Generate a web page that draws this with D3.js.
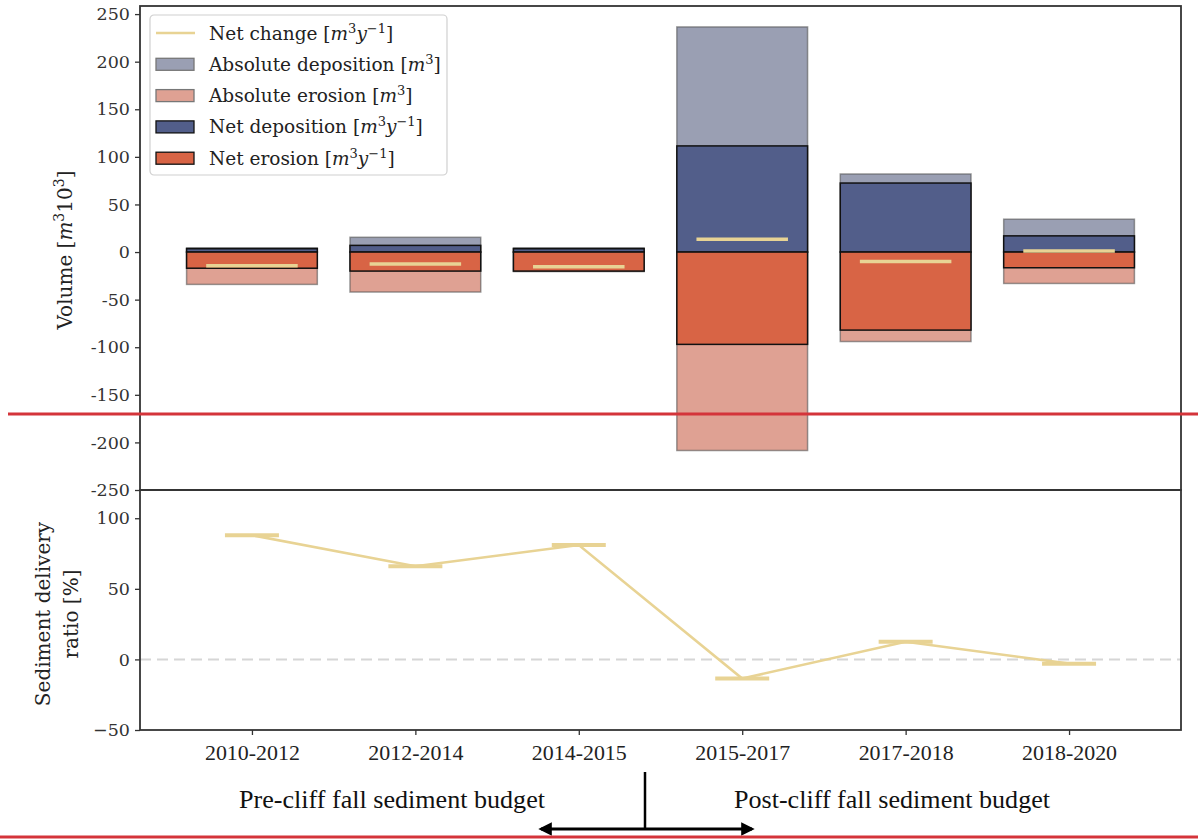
<!DOCTYPE html>
<html>
<head>
<meta charset="utf-8">
<script src="https://cdn.jsdelivr.net/npm/d3@7"></script>
<style>
  body { margin: 0; background: #fff; }
  svg { display: block; }
</style>
</head>
<body>
<svg id="chart"></svg>
<script>
// periods on the x axis
const periods = ["2010-2012", "2012-2014", "2014-2015", "2015-2017", "2017-2018", "2018-2020"]

// volumes [m3 10^3]
const absDeposition = [4.5, 15.5, 4.5, 236.5, 82, 34.5]
const netDeposition = [3.5, 7, 3.5, 111.5, 72.5, 17]
const netErosion = [-17, -20, -20, -97, -82, -16.5]
const absErosion = [-34, -42, -20.5, -208.5, -94, -33]
const netChange = [-14.5, -12.5, -15.5, 13.5, -10, 1]

// sediment delivery ratio [%]
const deliveryRatio = [88, 66, 81, -13.5, 12.5, -3]

const topTicks = [250, 200, 150, 100, 50, 0, -50, -100, -150, -200, -250]
const bottomTicks = [100, 50, 0, -50]

const W = 1198, H = 840
const svg = d3.select("#chart").attr("width", W).attr("height", H)

const serif = "'DejaVu Serif', serif"
const colors = {
    absDep: "#9a9fb3", netDep: "#525e8a",
    absEro: "#dfa193", netEro: "#d86445",
    change: "#e8d394"
}

let x = d3.scaleLinear().domain([-0.685, 5.685]).range([140, 1181])
let yTop = d3.scaleLinear().domain([-250, 258.5]).range([490, 6])
let yBot = d3.scaleLinear().domain([-50, 120]).range([730, 490])
const barW = x(0.8) - x(0)

// ---- top panel: bars ----
const topG = svg.append("g")

function bars(values, fill, stroke, opacity) {
    topG.append("g").selectAll("rect")
        .data(values)
        .join("rect")
        .attr("x", (d, i) => x(i) - barW / 2)
        .attr("width", barW)
        .attr("y", d => yTop(Math.max(0, d)))
        .attr("height", d => Math.abs(yTop(d) - yTop(0)))
        .attr("fill", fill)
        .attr("stroke", stroke)
        .attr("stroke-opacity", opacity)
        .attr("stroke-width", 1.5)
}
bars(absDeposition, colors.absDep, "#555", 0.6)
bars(absErosion, colors.absEro, "#555", 0.6)
bars(netDeposition, colors.netDep, "#111", 1)
bars(netErosion, colors.netEro, "#111", 1)

const lineW = x(0.56) - x(0)
topG.append("g").selectAll("line")
    .data(netChange)
    .join("line")
    .attr("x1", (d, i) => x(i) - lineW / 2)
    .attr("x2", (d, i) => x(i) + lineW / 2)
    .attr("y1", d => yTop(d))
    .attr("y2", d => yTop(d))
    .attr("stroke", colors.change)
    .attr("stroke-width", 3.5)

// ---- bottom panel ----
const botG = svg.append("g")
botG.append("line")
    .attr("x1", x.range()[0]).attr("x2", x.range()[1])
    .attr("y1", yBot(0)).attr("y2", yBot(0))
    .attr("stroke", "#d6d6d6")
    .attr("stroke-width", 2)
    .attr("stroke-dasharray", "11,6")

let ratioLine = d3.line()
    .x((d, i) => x(i))
    .y(d => yBot(d))

botG.append("path")
    .datum(deliveryRatio)
    .attr("fill", "none")
    .attr("stroke", colors.change)
    .attr("stroke-width", 2.6)
    .attr("d", ratioLine)

const markW = 54
botG.append("g").selectAll("line")
    .data(deliveryRatio)
    .join("line")
    .attr("x1", (d, i) => x(i) - markW / 2)
    .attr("x2", (d, i) => x(i) + markW / 2)
    .attr("y1", d => yBot(d))
    .attr("y2", d => yBot(d))
    .attr("stroke", colors.change)
    .attr("stroke-width", 4)

// ---- axes ----
function styleAxis(g) {
    g.select(".domain").remove()
    g.selectAll(".tick line").attr("stroke", "#333").attr("stroke-width", 1.3)
    g.selectAll(".tick text").attr("fill", "#333")
        .style("font-family", serif).style("font-size", "17.5px")
}

svg.append("g")
    .attr("transform", "translate(140,0)")
    .call(d3.axisLeft(yTop).tickValues(topTicks).tickSize(5).tickPadding(5)
        .tickFormat(d => String(d)))
    .call(styleAxis)

svg.append("g")
    .attr("transform", "translate(140,0)")
    .call(d3.axisLeft(yBot).tickValues(bottomTicks).tickSize(5).tickPadding(5)
        .tickFormat(d => d < 0 ? "\u2212" + Math.abs(d) : String(d)))
    .call(styleAxis)

let xAxis = svg.append("g")
    .attr("transform", "translate(0,730)")
    .call(d3.axisBottom(x).tickValues(d3.range(periods.length)).tickSize(5).tickPadding(9)
        .tickFormat(i => periods[i]))
xAxis.select(".domain").remove()
xAxis.selectAll(".tick line").attr("stroke", "#333").attr("stroke-width", 1.3)
xAxis.selectAll(".tick text")
    .attr("fill", "#222")
    .style("font-family", "'Liberation Serif', serif")
    .style("font-size", "22px")
    .attr("textLength", 95)
    .attr("lengthAdjust", "spacingAndGlyphs")

// frames
svg.append("rect")
    .attr("x", 140).attr("y", 6).attr("width", 1041).attr("height", 484)
    .attr("fill", "none").attr("stroke", "#333").attr("stroke-width", 1.8)
svg.append("rect")
    .attr("x", 140).attr("y", 490).attr("width", 1041).attr("height", 240)
    .attr("fill", "none").attr("stroke", "#333").attr("stroke-width", 1.8)

// axis titles
let volLabel = svg.append("text")
    .attr("transform", "translate(72,250) rotate(-90)")
    .attr("text-anchor", "middle")
    .attr("fill", "#222")
    .style("font-family", serif).style("font-size", "20px")
volLabel.append("tspan").text("Volume [")
volLabel.append("tspan").text("m").style("font-style", "italic")
volLabel.append("tspan").text("3").attr("baseline-shift", "super").style("font-size", "14px")
volLabel.append("tspan").text("10")
volLabel.append("tspan").text("3").attr("baseline-shift", "super").style("font-size", "14px")
volLabel.append("tspan").text("]")

let sdrLabel = svg.append("text")
    .attr("transform", "translate(50,614) rotate(-90)")
    .attr("text-anchor", "middle")
    .attr("fill", "#222")
    .style("font-family", serif).style("font-size", "20px")
sdrLabel.append("tspan").attr("x", 0).attr("dy", 0).text("Sediment delivery")
sdrLabel.append("tspan").attr("x", 0).attr("dy", 28).text("ratio [%]")

// ---- legend ----
const legend = svg.append("g").attr("transform", "translate(150,15)")
legend.append("rect")
    .attr("width", 297).attr("height", 160).attr("rx", 4)
    .attr("fill", "#fff").attr("fill-opacity", 0.8)
    .attr("stroke", "#d0d0d0").attr("stroke-width", 1.2)

const legendItems = [
    { type: "line", color: colors.change, label: ["Net change [", "m", "3", "y", "\u22121", "]"] },
    { type: "rect", color: colors.absDep, edge: "#777", label: ["Absolute deposition [", "m", "3", "", "", "]"] },
    { type: "rect", color: colors.absEro, edge: "#777", label: ["Absolute erosion [", "m", "3", "", "", "]"] },
    { type: "rect", color: colors.netDep, edge: "#111", label: ["Net deposition [", "m", "3", "y", "\u22121", "]"] },
    { type: "rect", color: colors.netEro, edge: "#111", label: ["Net erosion [", "m", "3", "y", "\u22121", "]"] }
]

legendItems.forEach((it, i) => {
    const cy = 18 + i * 31.3
    if (it.type === "line") {
        legend.append("line")
            .attr("x1", 6).attr("x2", 45).attr("y1", cy).attr("y2", cy)
            .attr("stroke", it.color).attr("stroke-width", 2.6)
    } else {
        legend.append("rect")
            .attr("x", 6).attr("y", cy - 6).attr("width", 38).attr("height", 12)
            .attr("fill", it.color).attr("stroke", it.edge).attr("stroke-width", 1.3)
    }
    const t = legend.append("text")
        .attr("x", 59).attr("y", cy + 6.5)
        .attr("fill", "#222")
        .style("font-family", serif).style("font-size", "18.5px")
    const [a, m, e, yv, e2, close] = it.label
    t.append("tspan").text(a)
    t.append("tspan").text(m).style("font-style", "italic")
    t.append("tspan").text(e).attr("baseline-shift", "super").style("font-size", "13px")
    if (yv) {
        t.append("tspan").text(yv).style("font-style", "italic")
        t.append("tspan").text(e2).attr("baseline-shift", "super").style("font-size", "13px")
    }
    t.append("tspan").text(close)
})

// ---- annotation below the axis ----
const ann = svg.append("g")
ann.append("text")
    .attr("x", 392).attr("y", 808)
    .attr("text-anchor", "middle")
    .attr("fill", "#111")
    .style("font-family", "'Liberation Serif', serif").style("font-size", "25px")
    .attr("textLength", 306).attr("lengthAdjust", "spacingAndGlyphs")
    .text("Pre-cliff fall sediment budget")
ann.append("text")
    .attr("x", 892).attr("y", 808)
    .attr("text-anchor", "middle")
    .attr("fill", "#111")
    .style("font-family", "'Liberation Serif', serif").style("font-size", "25px")
    .attr("textLength", 316).attr("lengthAdjust", "spacingAndGlyphs")
    .text("Post-cliff fall sediment budget")

const defs = svg.append("defs")
defs.append("marker")
    .attr("id", "head").attr("viewBox", "0 0 10 10")
    .attr("refX", 8).attr("refY", 5)
    .attr("markerWidth", 4.5).attr("markerHeight", 4.5)
    .attr("orient", "auto-start-reverse")
    .append("path").attr("d", "M0,0 L10,5 L0,10 Z").attr("fill", "#000")

ann.append("line")
    .attr("x1", 645).attr("x2", 645).attr("y1", 772).attr("y2", 829)
    .attr("stroke", "#000").attr("stroke-width", 2.5)
ann.append("line")
    .attr("x1", 541).attr("x2", 752).attr("y1", 829).attr("y2", 829)
    .attr("stroke", "#000").attr("stroke-width", 3)
    .attr("marker-start", "url(#head)")
    .attr("marker-end", "url(#head)")

// red guide lines present in the reference image
svg.append("line")
    .attr("x1", 8).attr("x2", W).attr("y1", 414).attr("y2", 414)
    .attr("stroke", "#d4343a").attr("stroke-width", 3)
svg.append("line")
    .attr("x1", 0).attr("x2", W).attr("y1", 837).attr("y2", 837)
    .attr("stroke", "#d4343a").attr("stroke-width", 3)
</script>
</body>
</html>
